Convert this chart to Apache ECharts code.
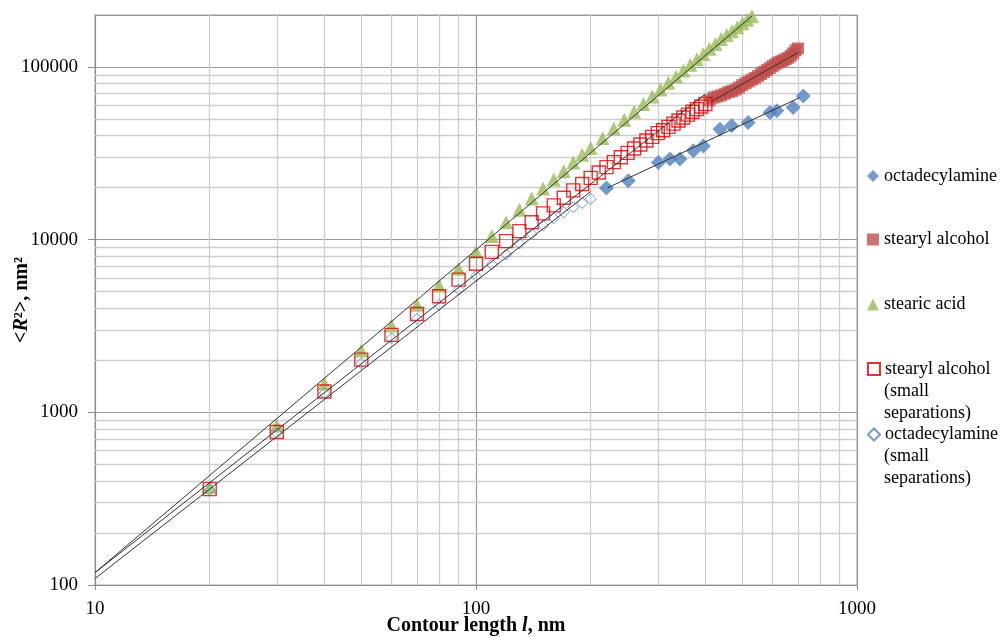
<!DOCTYPE html>
<html><head><meta charset="utf-8">
<script src="https://cdn.jsdelivr.net/npm/echarts@6/dist/echarts.min.js"></script>
<style>html,body{margin:0;padding:0;background:#fff}#c{width:1000px;height:637px}</style>
</head><body><div id="c"></div>
<script>
// ---- data ----
const octaX = [220, 251, 301, 323, 343, 372, 395, 437, 469, 518, 591, 616, 680, 723];
const octaY = [19900, 21900, 28000, 29300, 29300, 32700, 34900, 43600, 45600, 47700, 54500, 55700, 58200, 68000];

const stearylX = [410,420,430,440,450,460,470,480,490,500,510,520,530,540,550,560,570,580,590,600,610,620,630,640,650,660,670,680,690,700];
const stearylY = [64000,66500,67500,68500,70000,71500,72500,74000,76000,78500,80500,82500,84500,86500,88500,91000,93500,96000,98500,101000,103500,106000,107500,109000,111000,113000,116000,120000,125000,128000];

const acidX = [20,30,40,50,60,70,80,90,100,110,120,130,140,150,160,170,180,190,200,215,230,245,260,275,290,305,320,335,350,365,380,395,410,425,440,455,470,485,500,515,530];
const acidY = [370,840,1470,2280,3180,4200,5420,6790,8500,10500,12600,14900,17300,19800,22300,25000,28000,31000,34000,38800,44000,49500,55000,61000,67500,74000,81000,88000,95500,103000,111000,119000,127500,136000,145000,153000,161000,170000,179000,188000,197000];

const stearylSmallX = [20,30,40,50,60,70,80,90,100,110,120,130,140,150,160,170,180,190,200,210,220,230,240,250,260,270,280,290,300,310,320,330,340,350,360,370,380,390,400];
const stearylSmallY = [359,769,1320,2020,2810,3710,4700,5870,7250,8500,9800,11200,12600,14200,15800,17500,19300,21000,22800,24500,26300,28100,30000,31800,33700,35600,37500,39400,41400,43000,45000,47000,49000,51000,53000,55000,57000,59000,61000];

const octaSmallX = [20,30,40,50,60,70,80,90,100,110,120,130,140,150,160,170,180,190,200];
const octaSmallY = [355,757,1290,1920,2680,3480,4200,5140,6150,7200,8200,9500,10800,12100,13300,14400,15400,16300,17200];

// trendline endpoints (power-law fits, straight on log-log)
const fitAcidX = [10, 530],   fitAcidY = [118, 197000];
const fitStSmallX = [10, 400], fitStSmallY = [118, 69700];
const fitOcSmallX = [10, 200], fitOcSmallY = [109, 19000];
const fitStX = [417, 700],     fitStY = [63500, 121000];
const fitOcX = [222, 707],     fitOcY = [20000, 66500];

const xTickLabels = ['10', '100', '1000'];
const yTickLabels = ['100', '1000', '10000', '100000'];
const minorXGrid = [20,30,40,50,60,70,80,90,200,300,400,500,600,700,800,900];
const minorYGrid = [200,300,400,500,600,700,800,900,2000,3000,4000,5000,6000,7000,8000,9000,20000,30000,40000,50000,60000,70000,80000,90000];

const names = ['octadecylamine', 'stearyl alcohol', 'stearic acid',
  'stearyl alcohol (small separations)', 'octadecylamine (small separations)'];
const legendFirstLine = ['octadecylamine', 'stearyl alcohol', 'stearic acid', 'stearyl alcohol', 'octadecylamine'];
const legendExtraLines = [[], [], [], ['(small', 'separations)'], ['(small', 'separations)']];

// ---- build ----
const zip = (xs, ys) => xs.map((x, i) => [x, ys[i]]);
const FONT = 'Liberation Serif';
const chart = echarts.init(document.getElementById('c'), null, {renderer: 'canvas'});

const legendCenters = [176, 239.5, 304.5, 369, 434.5];
const LINE_H = 22;
const legends = names.map((n, i) => ({
  data: [n], orient: 'vertical', left: 867, top: legendCenters[i] - 11,
  padding: 0, itemWidth: 12, itemHeight: 12, selectedMode: false,
  formatter: () => legendFirstLine[i],
  textStyle: {fontFamily: FONT, fontSize: 18, lineHeight: LINE_H, color: '#000'}
}));
const legendGraphics = [];
legendExtraLines.forEach((lines, i) => {
  lines.forEach((t, k) => {
    legendGraphics.push({
      type: 'text', left: 884, top: legendCenters[i] + (k + 1) * LINE_H - 11, silent: true,
      style: {text: t, fontFamily: FONT, fontSize: 18, lineHeight: LINE_H, fill: '#000'}
    });
  });
});

const fitLine = (xs, ys) => ({
  type: 'line', data: zip(xs, ys), symbol: 'none', silent: true, z: 6,
  lineStyle: {color: '#333', width: 1}, animation: false
});

const option = {
  animation: false,
  backgroundColor: '#fff',
  grid: {left: 95, right: 143, top: 15, bottom: 52, show: true, borderColor: '#a3a3a3', borderWidth: 1,
    containLabel: false, outerBoundsMode: 'none'},
  legend: legends,
  graphic: legendGraphics,
  xAxis: {
    type: 'log', logBase: 10, min: 10, max: 1000,
    name: 'Contour length {i|l}, nm', nameLocation: 'middle', nameGap: 31, nameMoveOverlap: false,
    nameTextStyle: {fontFamily: FONT, fontSize: 20, fontWeight: 'bold', color: '#000',
      rich: {i: {fontFamily: FONT, fontSize: 20, fontWeight: 'bold', fontStyle: 'italic', color: '#000'}}},
    axisLine: {show: true, lineStyle: {color: '#8c8c8c', width: 1}},
    axisTick: {show: true, length: 5, lineStyle: {color: '#8c8c8c'}},
    axisLabel: {fontFamily: FONT, fontSize: 19, color: '#000', margin: 15,
      formatter: v => { const s = String(Math.round(v)); return xTickLabels.includes(s) ? s : ''; }},
    splitLine: {show: true, lineStyle: {color: '#9a9a9a', width: 1.2}},
    minorTick: {show: false}, minorSplitLine: {show: false}
  },
  yAxis: {
    type: 'log', logBase: 10, min: 100, max: 200000,
    name: '<{i|R}²>, nm²', nameLocation: 'middle', nameGap: 63, nameRotate: 90, nameMoveOverlap: false,
    nameTextStyle: {fontFamily: FONT, fontSize: 20, fontWeight: 'bold', color: '#000',
      rich: {i: {fontFamily: FONT, fontSize: 20, fontWeight: 'bold', fontStyle: 'italic', color: '#000'}}},
    axisLine: {show: true, lineStyle: {color: '#8c8c8c', width: 1}},
    axisTick: {show: true, length: 7, lineStyle: {color: '#8c8c8c'}},
    axisLabel: {fontFamily: FONT, fontSize: 19, color: '#000', margin: 17, showMaxLabel: false,
      formatter: v => { const s = String(Math.round(v)); return yTickLabels.includes(s) ? s : ''; }},
    splitLine: {show: true, lineStyle: {color: '#9a9a9a', width: 1.2}}
  },
  series: [
    {
      name: 'minor-grid', type: 'line', data: [], silent: true, z: 1,
      markLine: {
        silent: true, symbol: ['none', 'none'], z: 1, animation: false,
        label: {show: false},
        lineStyle: {color: '#cdcdcd', width: 1.3, type: 'solid'},
        emphasis: {disabled: true},
        data: minorXGrid.map(v => ({xAxis: v})).concat(minorYGrid.map(v => ({yAxis: v})))
      }
    },
    {name: names[0], type: 'scatter', data: zip(octaX, octaY), symbol: 'diamond', symbolSize: 15, z: 2,
      itemStyle: {color: '#4f81bd'}},
    {name: names[1], type: 'scatter', data: zip(stearylX, stearylY), symbol: 'rect', symbolSize: 12, z: 2,
      itemStyle: {color: '#c0504d'}},
    {name: names[2], type: 'scatter', data: zip(acidX, acidY), symbol: 'triangle', symbolSize: 14, z: 2,
      itemStyle: {color: '#9bbb59'}},
    {name: names[3], type: 'scatter', data: zip(stearylSmallX, stearylSmallY), symbol: 'rect', symbolSize: 13, z: 3,
      itemStyle: {color: 'rgba(255,255,255,0)', borderColor: '#e00000', borderWidth: 1.4}},
    {name: names[4], type: 'scatter', data: zip(octaSmallX, octaSmallY), symbol: 'diamond', symbolSize: 11, z: 3,
      itemStyle: {color: 'rgba(255,255,255,0)', borderColor: '#4f81bd', borderWidth: 1}},
    fitLine(fitAcidX, fitAcidY),
    fitLine(fitStSmallX, fitStSmallY),
    fitLine(fitOcSmallX, fitOcSmallY),
    fitLine(fitStX, fitStY),
    fitLine(fitOcX, fitOcY)
  ]
};
chart.setOption(option);
</script>
</body></html>
